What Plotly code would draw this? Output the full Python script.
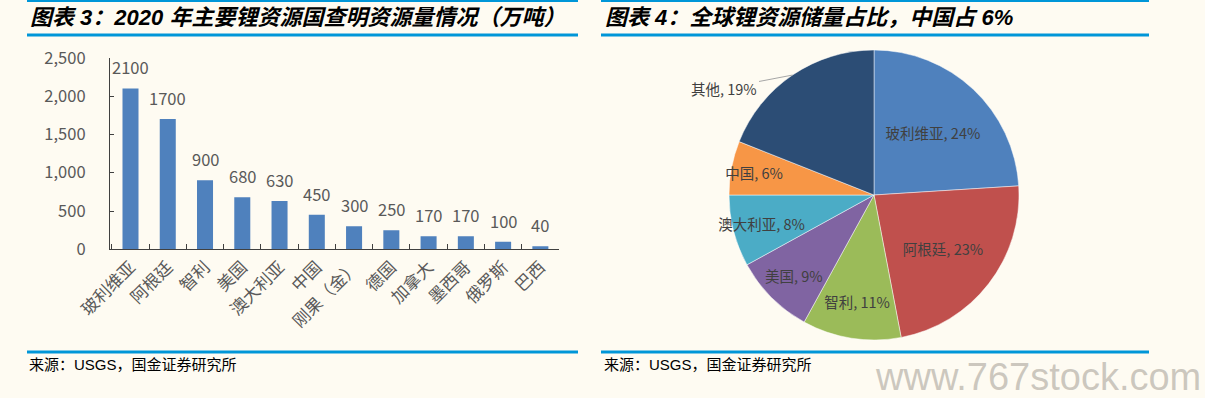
import math
import plotly.graph_objects as go

# ---- data ----
bar_categories = ["玻利维亚", "阿根廷", "智利", "美国", "澳大利亚", "中国",
                  "刚果（金）", "德国", "加拿大", "墨西哥", "俄罗斯", "巴西"]
bar_values = [2100, 1700, 900, 680, 630, 450, 300, 250, 170, 170, 100, 40]
y_tick_values = [0, 500, 1000, 1500, 2000, 2500]

pie_labels = ["玻利维亚", "阿根廷", "智利", "美国", "澳大利亚", "中国", "其他"]
pie_values = [24, 23, 11, 9, 8, 6, 19]
pie_colors = ["#4F81BD", "#C0504D", "#9BBB59", "#8064A2", "#4BACC6", "#F79646", "#2C4D75"]

title_left = "图表 3：2020 年主要锂资源国查明资源量情况（万吨）"
title_right = "图表 4：全球锂资源储量占比，中国占 6%"
source_text = "来源：USGS，国金证券研究所"
watermark = "www.767stock.com"

W, H = 1205, 398
BG = "#FEFBF2"
BLUE = "#0096D8"
CJK = "Noto Sans CJK SC"
GRAY = "#595959"
PIE_CX, PIE_CY, PIE_R = 874, 195, 145

def px(x):
    return x / W

def py(y):
    return 1 - y / H

fig = go.Figure()

fig.add_trace(go.Bar(
    x=bar_categories, y=bar_values,
    marker=dict(color="#4F81BD", line=dict(width=0)),
    xaxis="x", yaxis="y", showlegend=False, hoverinfo="x+y",
))

outside_idx = len(pie_labels) - 1  # "其他" is labelled outside with a leader line
fig.add_trace(go.Pie(
    labels=pie_labels, values=pie_values, sort=False, direction="clockwise",
    rotation=0,
    marker=dict(colors=pie_colors, line=dict(color="rgba(255,255,255,0.6)", width=0.8)),
    texttemplate=["%{label}, %{value}%" if i != outside_idx else "" for i in range(len(pie_labels))],
    textposition="inside",
    insidetextorientation="horizontal",
    textfont=dict(family=CJK, size=14.5, color="#404040"),
    domain=dict(x=[px(PIE_CX - PIE_R), px(PIE_CX + PIE_R)],
                y=[py(PIE_CY + PIE_R), py(PIE_CY - PIE_R)]),
    showlegend=False,
))

annotations = []
for cat, val in zip(bar_categories, bar_values):
    annotations.append(dict(
        x=cat, y=val, xref="x", yref="y", text=str(val), showarrow=False,
        yshift=21, yanchor="middle", xanchor="center",
        font=dict(family=CJK, size=16.5, color=GRAY),
    ))

# leader-line label for the outside slice, anchored at the slice's mid-angle on the rim
total = sum(pie_values)
frac_mid = (sum(pie_values[:outside_idx]) + pie_values[outside_idx] / 2) / total
theta = 2 * math.pi * frac_mid
edge_x = PIE_CX + PIE_R * math.sin(theta)
edge_y = PIE_CY - PIE_R * math.cos(theta)
annotations.append(dict(
    x=px(edge_x), y=py(edge_y), xref="paper", yref="paper",
    text=f"{pie_labels[outside_idx]}, {pie_values[outside_idx]}%",
    showarrow=True, arrowhead=0, arrowwidth=1, arrowcolor="#A6A6A6",
    ax=-68, ay=13, standoff=0,
    font=dict(family=CJK, size=14.5, color="#404040"),
))

title_font = dict(family="Liberation Sans, " + CJK, size=22, color="#000000",
                  weight="bold", style="italic")
src_font = dict(family="Liberation Sans, " + CJK, size=15, color="#000000")
annotations += [
    dict(x=px(28), y=py(17), xref="paper", yref="paper", text=title_left,
         showarrow=False, xanchor="left", yanchor="middle", font=title_font),
    dict(x=px(603), y=py(17), xref="paper", yref="paper", text=title_right,
         showarrow=False, xanchor="left", yanchor="middle", font=title_font),
    dict(x=px(27), y=py(364), xref="paper", yref="paper", text=source_text,
         showarrow=False, xanchor="left", yanchor="middle", font=src_font),
    dict(x=px(602), y=py(364), xref="paper", yref="paper", text=source_text,
         showarrow=False, xanchor="left", yanchor="middle", font=src_font),
    dict(x=px(1203), y=py(377), xref="paper", yref="paper", text=watermark,
         showarrow=False, xanchor="right", yanchor="middle",
         font=dict(family="Liberation Sans", size=38, color="rgba(170,165,155,0.6)")),
]

shapes = []
for (x0, x1) in [(27, 578), (601, 1149)]:
    for (yy, w) in [(1, 2), (35, 3), (352, 3)]:
        shapes.append(dict(type="line", xref="paper", yref="paper",
                           x0=px(x0), x1=px(x1), y0=py(yy), y1=py(yy),
                           line=dict(color=BLUE, width=w)))

axis_color = "#404040"
fig.update_layout(
    width=W, height=H,
    autosize=False,
    margin=dict(l=0, r=0, t=0, b=0, pad=0, autoexpand=False),
    paper_bgcolor=BG, plot_bgcolor=BG,
    bargap=0.57,
    uniformtext=dict(minsize=14, mode="show"),
    xaxis=dict(
        domain=[px(110), px(559)],
        anchor="y", automargin=False,
        showline=True, linecolor=axis_color, linewidth=1.3,
        ticks="inside", ticklen=5, tickcolor=axis_color, tickwidth=1.3,
        tickson="boundaries",
        tickangle=-45,
        tickfont=dict(family=CJK, size=17, color=GRAY),
        showgrid=False, zeroline=False, fixedrange=True,
    ),
    yaxis=dict(
        domain=[py(249.3), py(57.8)],
        anchor="x", automargin=False,
        range=[0, 2500],
        tickvals=y_tick_values,
        tickformat=",d",
        showline=True, linecolor=axis_color, linewidth=1.3,
        ticks="inside", ticklen=4, tickcolor=axis_color, tickwidth=1.3,
        ticklabelstandoff=20,
        tickfont=dict(family=CJK, size=16.5, color=GRAY),
        showgrid=False, zeroline=False, fixedrange=True,
    ),
    annotations=annotations,
    shapes=shapes,
)

fig.write_html("out.html", config={"displayModeBar": False},
               post_script="document.body.style.margin='0';")
